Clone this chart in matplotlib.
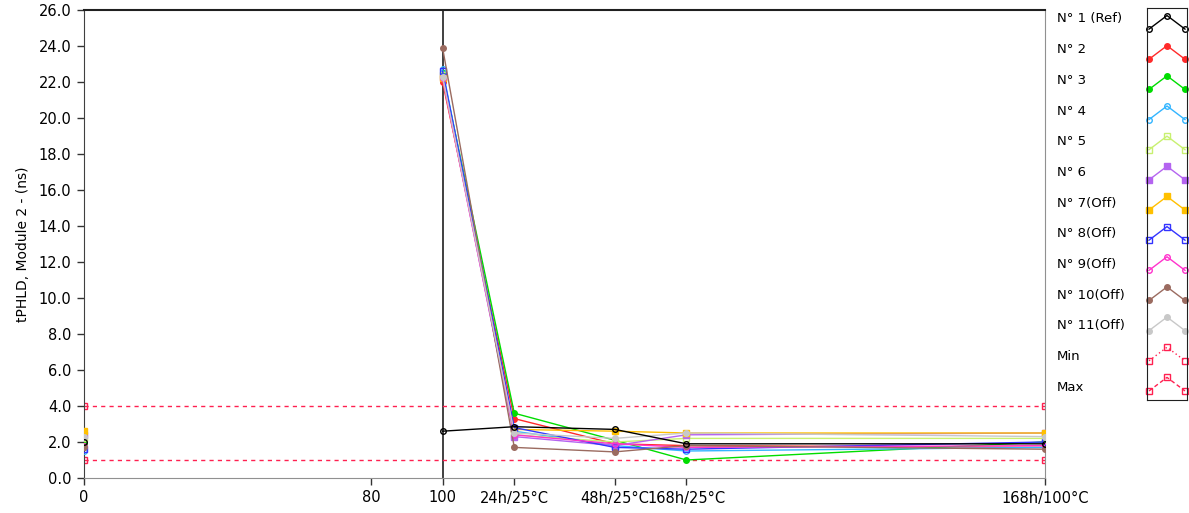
import numpy as np
import matplotlib
matplotlib.use("Agg")
import matplotlib.pyplot as plt

# x positions of the test steps
x_start = [0]
x_steps = [100, 120, 148, 168, 268]
tick_pos = [0, 80, 100, 120, 148, 168, 268]
tick_labels = ["0", "80", "100", "24h/25°C", "48h/25°C", "168h/25°C", "168h/100°C"]

names = ["N° 1 (Ref)", "N° 2", "N° 3", "N° 4", "N° 5", "N° 6",
         "N° 7(Off)", "N° 8(Off)", "N° 9(Off)", "N° 10(Off)", "N° 11(Off)"]

# value at x=0
start_vals = [2.0, 1.7, 1.9, 1.5, 2.2, 2.4, 2.6, 1.6, 1.8, 1.7, 2.3]

# values at 100, 24h, 48h, 168h/25, 168h/100
step_vals = [
    [2.6, 2.85, 2.7, 1.9, 1.9],
    [22.0, 3.3, 1.9, 1.8, 1.7],
    [22.5, 3.6, 2.1, 1.0, 2.0],
    [22.7, 2.6, 1.8, 1.5, 1.7],
    [22.4, 2.4, 2.0, 2.2, 2.2],
    [22.3, 2.3, 1.8, 2.4, 2.5],
    [22.2, 2.7, 2.6, 2.5, 2.5],
    [22.6, 2.8, 1.7, 1.6, 2.0],
    [22.2, 2.4, 1.9, 1.7, 1.8],
    [23.9, 1.7, 1.45, 1.8, 1.6],
    [22.3, 2.5, 2.2, 2.5, 2.3],
]

min_limit = 1.0
max_limit = 4.0

colors = ["#000000", "#ff2a2a", "#00dd00", "#33b5ff", "#c8f070", "#b464f0",
          "#ffc000", "#3333ff", "#ff33cc", "#9b6b60", "#c8c8c8"]
markers = ["o", "o", "o", "o", "s", "s", "s", "s", "o", "o", "o"]
filled = [False, True, True, False, False, True, True, False, False, True, True]
limit_color = "#ff2050"

fig = plt.figure(figsize=(11.89, 5.13), dpi=100)
ax = fig.add_axes([84 / 1189, 35 / 513, (1045 - 84) / 1189, (478 - 10) / 513])

# limit lines
ax.plot([0, 268], [max_limit, max_limit], ls=(0, (3, 3)), color=limit_color, lw=1,
        marker="s", ms=4, mfc="none", mec=limit_color, zorder=2)
ax.plot([0, 268], [min_limit, min_limit], ls=(0, (3, 3)), color=limit_color, lw=1,
        marker="s", ms=4, mfc="none", mec=limit_color, zorder=2)

ax.axvline(100, color="#202020", lw=1.2, zorder=1)

order = list(range(1, 11)) + [0]
for i in order:
    mfc = colors[i] if filled[i] else "none"
    ax.plot(x_start, [start_vals[i]], ls="none", marker=markers[i], ms=4,
            mfc=mfc, mec=colors[i], zorder=3)
    ax.plot(x_steps, step_vals[i], color=colors[i], lw=1, marker=markers[i], ms=4,
            mfc=mfc, mec=colors[i], zorder=3 if i else 4)

ax.set_xlim(0, 268)
ax.set_ylim(0, 26)
ax.set_yticks(np.arange(0, 27, 2))
ax.set_yticklabels([f"{v:.1f}" for v in np.arange(0, 27, 2)], fontsize=10.5)
ax.set_xticks(tick_pos)
ax.set_xticklabels(tick_labels, fontsize=10.5)
ax.tick_params(direction="out", length=5, width=1, color="#333333", pad=4)
ax.set_ylabel("tPHLD, Module 2 - (ns)", fontsize=10, labelpad=6)
for side in ["left", "bottom", "right"]:
    ax.spines[side].set_color("#909090")
ax.spines["left"].set_color("#404040")
ax.spines["top"].set_color("#202020")
ax.spines["top"].set_linewidth(1.5)

# legend: labels on the left, samples in a framed box on the right
leg_names = names + ["Min", "Max"]
leg_colors = colors + [limit_color, limit_color]
leg_markers = markers + ["s", "s"]
leg_filled = filled + [False, False]
leg_ls = ["-"] * 11 + [(0, (1, 2)), (0, (3, 2))]

lax = fig.add_axes([1147 / 1189, (513 - 400) / 513, 40 / 1189, (400 - 8) / 513])
lax.set_xlim(0, 1)
lax.set_ylim(13, 0)
lax.set_xticks([])
lax.set_yticks([])
for s in lax.spines.values():
    s.set_color("#202020")
for k, nm in enumerate(leg_names):
    yc = k + 0.6
    mfc = leg_colors[k] if leg_filled[k] else "none"
    lax.plot([0.05, 0.5, 0.95], [yc + 0.1, yc - 0.35, yc + 0.1], color=leg_colors[k],
             ls=leg_ls[k], lw=1, marker=leg_markers[k], ms=4, mfc=mfc,
             mec=leg_colors[k], clip_on=False)
    fig.text(1057 / 1189, 1 - (19 + k * 30.7) / 513, nm, fontsize=9.5, va="center", ha="left")

fig.savefig("out.png", dpi=100)
